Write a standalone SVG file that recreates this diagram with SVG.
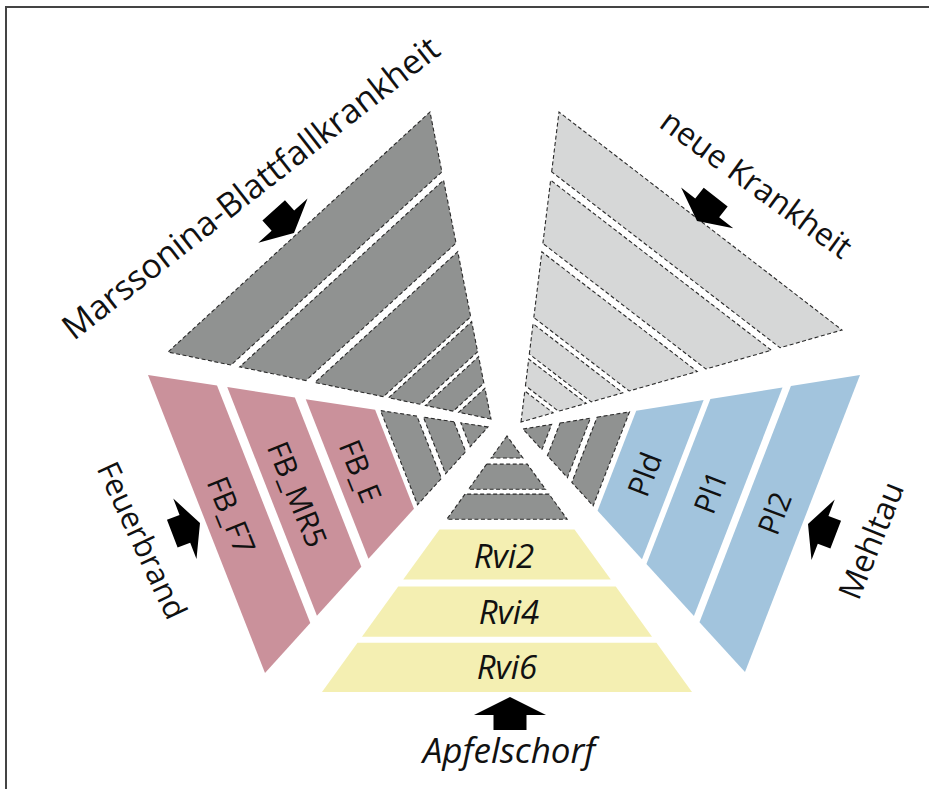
<svg xmlns="http://www.w3.org/2000/svg" width="929" height="789" viewBox="0 0 929 789">
<style>
  .g{fill:#909291;stroke:#2a2a2a;stroke-width:1.1;stroke-dasharray:4 2.5;vector-effect:non-scaling-stroke}
  .lg{fill:#d6d7d7;stroke:#2a2a2a;stroke-width:1.1;stroke-dasharray:4 2.5;vector-effect:non-scaling-stroke}
  .pk{fill:#ca919b}
  .bl{fill:#a2c4dd}
  .ye{fill:#f4efb2}
  text{font-family:"Open Sans","Noto Sans","Liberation Sans",sans-serif;fill:#111;text-anchor:middle}
  .in{font-size:30px;dominant-baseline:central}
  .it{font-style:italic}
  .lab{font-size:32px;dominant-baseline:central}
  .arr{fill:#000}
</style>
<defs>
  <path id="arrow" d="M0,0 L36,18 L16.5,18 L16.5,33 L-16.5,33 L-16.5,18 L-36,18 Z"/>
</defs>
<rect width="929" height="789" fill="#fff"/>
<path d="M6,789 V7 H929" fill="none" stroke="#444" stroke-width="2"/>

<g id="apfelschorf">
  <g transform="matrix(-185,256,185,256,507,436)">
    <polygon id="apf-g1" class="g" points="0,0 0.086,0 0,0.086"/>
    <polygon id="apf-g2" class="g" points="0.11,0 0.208,0 0,0.208 0,0.11"/>
    <polygon id="apf-g3" class="g" points="0.227,0 0.325,0 0,0.325 0,0.227"/>
    <polygon id="rvi2" class="ye" points="0.365,0 0.561,0 0,0.561 0,0.365"/>
    <polygon id="rvi4" class="ye" points="0.588,0 0.784,0 0,0.784 0,0.588"/>
    <polygon id="rvi6" class="ye" points="0.808,0 1,0 0,1 0,0.808"/>
  </g>
  <text class="in it" style="font-size:33px" x="504" y="555">Rvi2</text>
  <text class="in it" style="font-size:33px" x="509" y="611">Rvi4</text>
  <text class="in it" style="font-size:33px" x="507" y="666">Rvi6</text>
  <text class="it" style="font-size:35px" x="509" y="763">Apfelschorf</text>
</g>

<g id="feuerbrand">
  <g transform="matrix(-340,-52,-223,246,488,427)">
    <polygon id="fb-g1" class="g" points="0,0 0.08,0 0,0.08"/>
    <polygon id="fb-g2" class="g" points="0.10,0 0.19,0 0,0.19 0,0.10"/>
    <polygon id="fb-g3" class="g" points="0.209,0 0.316,0 0,0.316 0,0.209"/>
    <polygon id="fb-e" class="pk" points="0.332,0 0.536,0 0,0.536 0,0.332"/>
    <polygon id="fb-mr5" class="pk" points="0.568,0 0.767,0 0,0.767 0,0.568"/>
    <polygon id="fb-f7" class="pk" points="0.797,0 1,0 0,1 0,0.797"/>
  </g>
  <text class="in" transform="translate(232,515) rotate(68)">FB_F7</text>
  <text class="in" transform="translate(298,494) rotate(68)">FB_MR5</text>
  <text class="in" transform="translate(361,471) rotate(68)">FB_E</text>
  <text class="lab" style="font-size:31px" transform="translate(143,540) rotate(65)">Feuerbrand</text>
</g>

<g id="marssonina">
  <g transform="matrix(-323,-67,-61,-307,491,419)">
    <polygon id="ma-1" class="g" points="0,0 0.10,0 0,0.10"/>
    <polygon id="ma-2" class="g" points="0.117,0 0.203,0 0,0.203 0,0.117"/>
    <polygon id="ma-3" class="g" points="0.219,0 0.317,0 0,0.317 0,0.219"/>
    <polygon id="ma-4" class="g" points="0.333,0 0.545,0 0,0.545 0,0.333"/>
    <polygon id="ma-5" class="g" points="0.573,0 0.778,0 0,0.778 0,0.573"/>
    <polygon id="ma-6" class="g" points="0.805,0 1,0 0,1 0,0.805"/>
  </g>
  <text class="lab" style="font-size:34px" transform="translate(250,187) rotate(-38)">Marssonina-Blattfallkrankheit</text>
</g>

<g id="neue-krankheit">
  <g transform="matrix(38,-310,321,-92,521,422)">
    <polygon id="nk-1" class="lg" points="0,0 0.10,0 0,0.10"/>
    <polygon id="nk-2" class="lg" points="0.117,0 0.203,0 0,0.203 0,0.117"/>
    <polygon id="nk-3" class="lg" points="0.219,0 0.317,0 0,0.317 0,0.219"/>
    <polygon id="nk-4" class="lg" points="0.337,0 0.549,0 0,0.549 0,0.337"/>
    <polygon id="nk-5" class="lg" points="0.576,0 0.78,0 0,0.78 0,0.576"/>
    <polygon id="nk-6" class="lg" points="0.807,0 1,0 0,1 0,0.807"/>
  </g>
  <text class="lab" transform="translate(757,183) rotate(36)">neue Krankheit</text>
</g>

<g id="mehltau">
  <g transform="matrix(337,-54,222,243,523,429)">
    <polygon id="me-g1" class="g" points="0,0 0.085,0 0,0.085"/>
    <polygon id="me-g2" class="g" points="0.11,0 0.2,0 0,0.2 0,0.11"/>
    <polygon id="me-g3" class="g" points="0.22,0 0.316,0 0,0.316 0,0.22"/>
    <polygon id="pld" class="bl" points="0.336,0 0.536,0 0,0.536 0,0.336"/>
    <polygon id="pl1" class="bl" points="0.556,0 0.77,0 0,0.77 0,0.556"/>
    <polygon id="pl2" class="bl" points="0.795,0 1,0 0,1 0,0.795"/>
  </g>
  <text class="in" transform="translate(644,474) rotate(-69)">Pld</text>
  <text class="in" transform="translate(710,492) rotate(-69)">Pl1</text>
  <text class="in" transform="translate(774,513) rotate(-69)">Pl2</text>
  <text class="lab" transform="translate(870,540) rotate(-68)">Mehltau</text>
</g>

<g id="connectors">
  <use href="#arrow" class="arr" transform="translate(510,697)"/>
  <use href="#arrow" class="arr" transform="translate(294,233) rotate(138) scale(0.92)"/>
  <use href="#arrow" class="arr" transform="translate(697,221) rotate(218) scale(0.92)"/>
  <use href="#arrow" class="arr" transform="translate(200,523) rotate(69) scale(0.9)"/>
  <use href="#arrow" class="arr" transform="translate(808,524) rotate(291) scale(0.9)"/>
</g>
</svg>
